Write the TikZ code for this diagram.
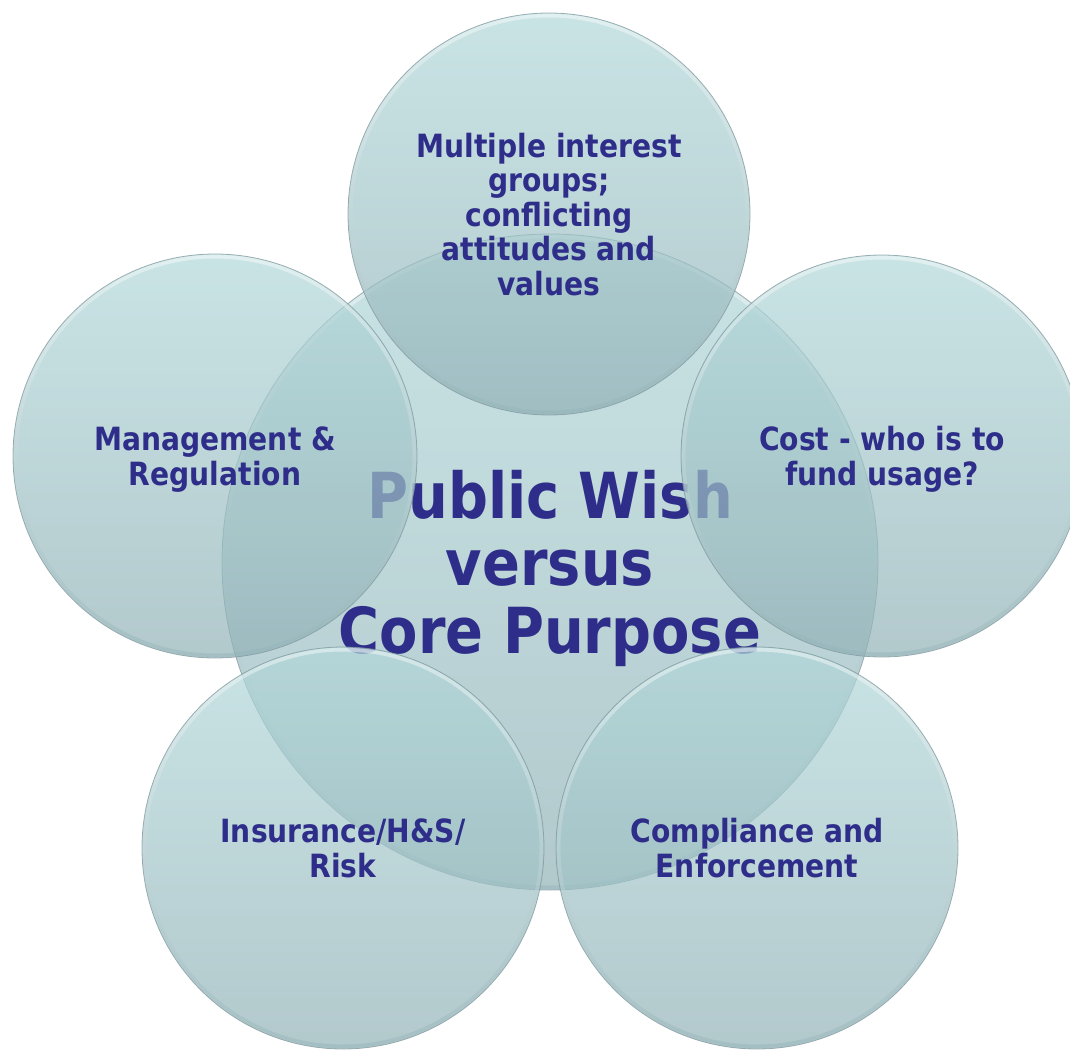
\documentclass[tikz,border=0pt]{standalone}
\usepackage{fontspec}
\setmainfont{DejaVu Sans}[FakeStretch=0.88]
\definecolor{txtblue}{RGB}{46,46,138}
\definecolor{ctop}{RGB}{178,216,218}
\definecolor{cbot}{RGB}{146,178,183}
\definecolor{cline}{RGB}{128,152,158}
\newcommand\fst{\rule{0pt}{1.05em}}
\newcommand\lst{\rule[-0.3em]{0pt}{0.3em}}
\tikzset{
  bubble/.style={circle, inner sep=0pt, outer sep=0pt, minimum size=#1,
    top color=ctop, bottom color=cbot, fill opacity=0.7, text opacity=1,
    draw=cline, draw opacity=0.75, line width=0.8pt, text=txtblue, align=center},
  smalltxt/.style={font=\bfseries\fontsize{32}{34.5}\selectfont},
  bigtxt/.style={font=\bfseries\fontsize{63.5}{67.5}\selectfont},
  rimband/.style={top color=white, bottom color=cbot, fill opacity=0.45, even odd rule}
}
\newcommand\bevel[2]{%
  \shade[rimband] (#1.center) circle[radius=#2-0.8pt] (#1.center) circle[radius=#2-4.5pt];
}
\begin{document}
\begin{tikzpicture}[x=1pt,y=-1pt]
\useasboundingbox (0,0) rectangle (1070,1051);
\node[bubble=656pt, bigtxt] (core) at (550,562)
  {\fst Public Wish\\versus\\Core Purpose\lst};
\bevel{core}{328pt}
\node[bubble=402pt, smalltxt] (top) at (549,214)
  {\fst Multiple interest\\groups;\\conflicting\\attitudes and\\values\lst};
\bevel{top}{201pt}
\node[bubble=404pt, smalltxt] (left) at (215,456)
  {\fst Management \&\\Regulation\lst};
\bevel{left}{202pt}
\node[bubble=402pt, smalltxt] (right) at (882,456)
  {\fst Cost - who is to\\fund usage?\lst};
\bevel{right}{201pt}
\node[bubble=402pt, smalltxt] (bl) at (343,848)
  {\fst Insurance/H\&S/\\Risk\lst};
\bevel{bl}{201pt}
\node[bubble=402pt, smalltxt] (br) at (757,848)
  {\fst Compliance and\\Enforcement\lst};
\bevel{br}{201pt}
\end{tikzpicture}
\end{document}
